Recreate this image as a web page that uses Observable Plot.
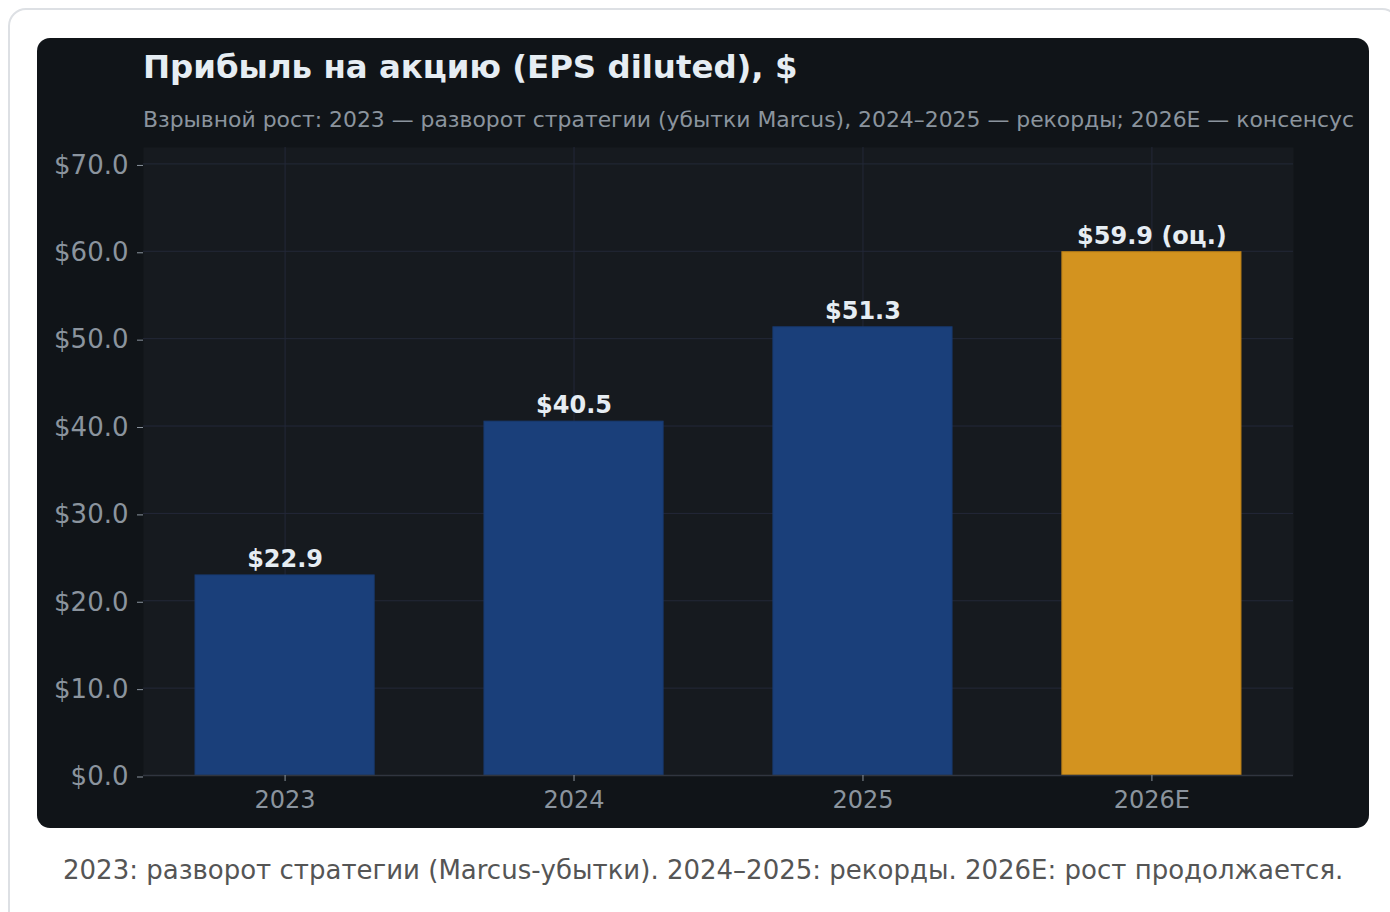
<!DOCTYPE html>
<html>
<head>
<meta charset="utf-8">
<script src="https://cdn.jsdelivr.net/npm/d3@7"></script>
<script src="https://cdn.jsdelivr.net/npm/@observablehq/plot@0.6"></script>
<style>
  html, body { margin: 0; padding: 0; background: #ffffff; width: 1390px; height: 912px; overflow: hidden; font-family: "DejaVu Sans", sans-serif; }
  #card { position: absolute; left: 8px; top: 8px; width: 1392px; height: 940px; border: 2px solid #dde0e4; border-radius: 18px; box-sizing: border-box; background: #fff; }
  #panel { position: absolute; left: 37px; top: 38px; width: 1332px; height: 790px; background: #101418; border-radius: 13px; overflow: hidden; }
  #title { position: absolute; left: 106px; top: 10px; font-size: 32.4px; font-weight: bold; color: #e6edf3; white-space: nowrap; }
  #subtitle { position: absolute; left: 106px; top: 69px; font-size: 21.9px; color: #8b949e; white-space: nowrap; }
  #chart { position: absolute; left: 0; top: 64px; }
  #caption { position: absolute; left: 63px; top: 855px; font-size: 26px; color: #555555; white-space: nowrap; }
</style>
</head>
<body>
<div id="card"></div>
<div id="panel">
  <div id="title">Прибыль на акцию (EPS diluted), $</div>
  <div id="subtitle">Взрывной рост: 2023 — разворот стратегии (убытки Marcus), 2024–2025 — рекорды; 2026E — консенсус</div>
  <div id="chart"></div>
</div>
<div id="caption">2023: разворот стратегии (Marcus-убытки). 2024–2025: рекорды. 2026E: рост продолжается.</div>
<script>
const years = ["2023", "2024", "2025", "2026E"];
const eps = [22.9, 40.5, 51.3, 59.9];
const barLabels = ["$22.9", "$40.5", "$51.3", "$59.9 (оц.)"];
const isEstimate = [false, false, false, true];
const yTicks = [0, 10, 20, 30, 40, 50, 60, 70];

const data = years.map((y, i) => ({year: y, eps: eps[i], label: barLabels[i], est: isEstimate[i]}));
const yMax = Math.max(...eps) * 1.2;

const plot = Plot.plot({
  width: 1332,
  height: 726,
  marginLeft: 106,
  marginRight: 76,
  marginTop: 45,
  marginBottom: 53,
  style: {background: "transparent", fontFamily: "DejaVu Sans, sans-serif", overflow: "visible"},
  x: {domain: years, paddingInner: 0.38, paddingOuter: 0.18, round: false, label: null},
  y: {domain: [0, yMax], label: null},
  marks: [
    Plot.frame({fill: "#161a1f", stroke: null}),
    Plot.gridY(yTicks, {stroke: "#232838", strokeOpacity: 1, strokeWidth: 1}),
    Plot.gridX(years, {stroke: "#232838", strokeOpacity: 1, strokeWidth: 1}),
    Plot.barY(data, {x: "year", y: "eps", fill: d => d.est ? "#d3931f" : "#1a3f7a", stroke: d => d.est ? "#b57c17" : "#183a70", strokeWidth: 1}),
    Plot.text(data, {x: "year", y: "eps", text: "label", dy: -16, fill: "#e6edf3", fontSize: 24, fontWeight: "bold"}),
    Plot.ruleY([0], {stroke: "#30353f", strokeWidth: 1.5}),
    Plot.ruleX([0], {x: () => null, frameAnchor: "left", stroke: "#30353f", strokeWidth: 1.5}),
    Plot.axisY(yTicks, {tickFormat: d => "$" + d.toFixed(1), tickSize: 6, tickPadding: 9, dy: 1.5, stroke: "#8b949e", fill: "#8b949e", fontSize: 26, label: null}),
    Plot.axisX(years, {tickSize: 6, tickPadding: 9, stroke: "#8b949e", fill: "#8b949e", fontSize: 24, label: null})
  ]
});
document.getElementById("chart").appendChild(plot);
</script>
</body>
</html>
